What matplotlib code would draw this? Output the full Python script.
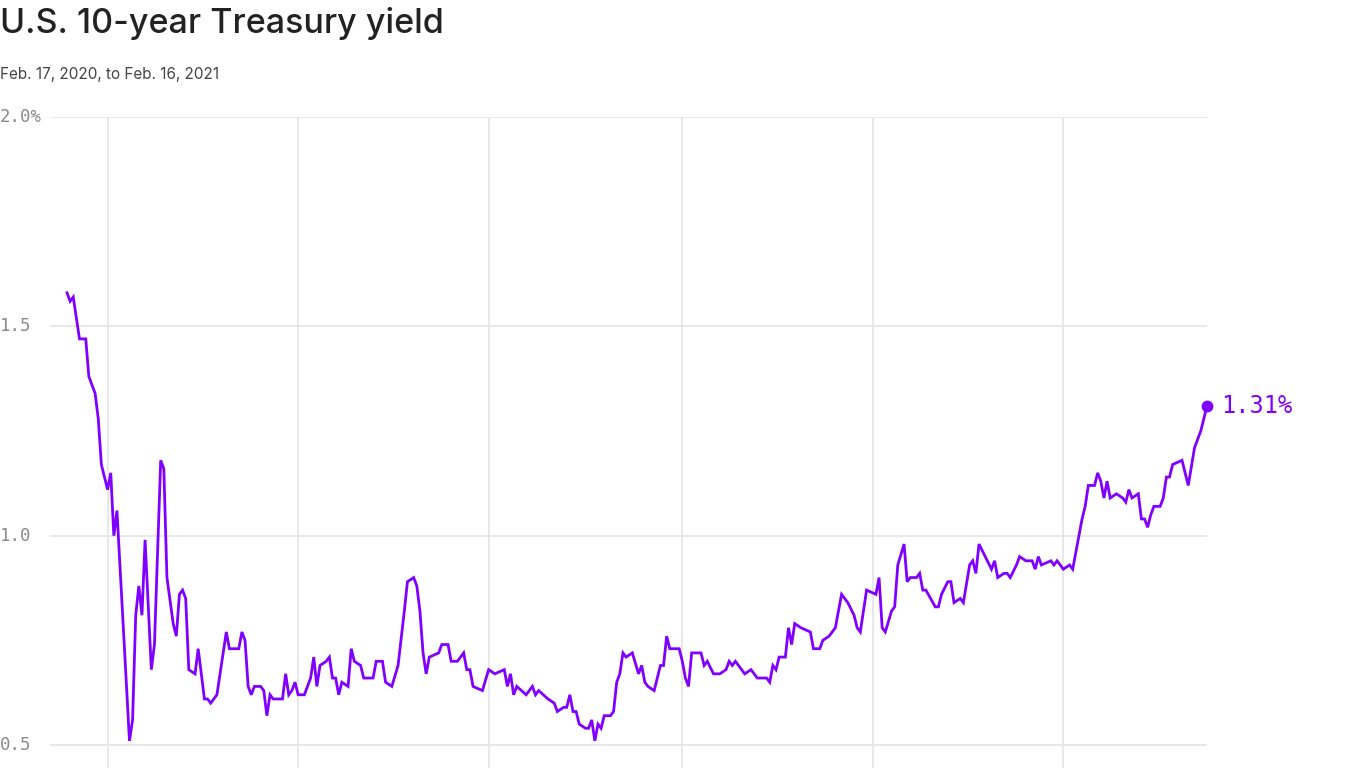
import numpy as np
import pandas as pd
import matplotlib
matplotlib.use("Agg")
import matplotlib.pyplot as plt
import matplotlib.dates as mdates
from matplotlib.transforms import blended_transform_factory

# days since Feb. 17, 2020 and the 10-year yield (%)
days = [0, 1, 2, 4, 6, 7, 9, 10, 11, 13, 14, 15, 16, 20, 21, 22, 23, 24, 25, 27,
        28, 30, 31, 32, 34, 35, 36, 37, 38, 39, 41, 42, 44, 45, 46, 48, 51, 52, 55, 56,
        57, 58, 59, 60, 62, 63, 64, 65, 66, 69, 70, 71, 72, 73, 74, 76, 78, 79, 80, 81,
        83, 84, 85, 86, 87, 88, 90, 91, 92, 94, 95, 98, 99, 101, 102, 104, 106, 108, 109, 111,
        112, 113, 114, 115, 116, 119, 120, 122, 123, 125, 127, 128, 129, 130, 133, 135, 137, 140, 141, 142,
        143, 144, 147, 149, 150, 151, 154, 156, 157, 159, 160, 161, 162, 163, 164, 166, 167, 168, 169, 170,
        171, 172, 174, 175, 176, 177, 178, 179, 181, 183, 184, 185, 186, 188, 189, 190, 191, 192, 193, 196,
        197, 198, 199, 200, 203, 204, 205, 207, 209, 211, 212, 213, 214, 217, 219, 220, 221, 224, 225, 226,
        227, 228, 230, 231, 232, 233, 235, 238, 239, 241, 242, 244, 246, 248, 250, 252, 253, 254, 256, 259,
        260, 261, 262, 264, 265, 266, 268, 269, 270, 272, 273, 274, 275, 278, 279, 280, 282, 283, 284, 286,
        287, 289, 290, 291, 292, 294, 296, 297, 298, 300, 301, 302, 304, 305, 307, 309, 310, 311, 312, 315,
        316, 317, 319, 321, 322, 324, 325, 326, 327, 329, 330, 331, 332, 333, 334, 336, 338, 339, 340, 341,
        343, 344, 345, 346, 347, 348, 350, 351, 352, 353, 354, 357, 359, 361, 363, 365]
yields = [1.58, 1.56, 1.57, 1.47, 1.47, 1.38, 1.34, 1.28, 1.17, 1.11, 1.15, 1.00, 1.06, 0.51, 0.56, 0.81, 0.88, 0.81, 0.99, 0.68,
          0.74, 1.18, 1.16, 0.90, 0.79, 0.76, 0.86, 0.87, 0.85, 0.68, 0.67, 0.73, 0.61, 0.61, 0.60, 0.62, 0.77, 0.73, 0.73, 0.77,
          0.75, 0.64, 0.62, 0.64, 0.64, 0.63, 0.57, 0.62, 0.61, 0.61, 0.67, 0.62, 0.63, 0.65, 0.62, 0.62, 0.66, 0.71, 0.64, 0.69,
          0.70, 0.71, 0.66, 0.66, 0.62, 0.65, 0.64, 0.73, 0.70, 0.69, 0.66, 0.66, 0.70, 0.70, 0.65, 0.64, 0.69, 0.82, 0.89, 0.90,
          0.88, 0.82, 0.72, 0.67, 0.71, 0.72, 0.74, 0.74, 0.70, 0.70, 0.72, 0.68, 0.68, 0.64, 0.63, 0.68, 0.67, 0.68, 0.64, 0.67,
          0.62, 0.64, 0.62, 0.64, 0.62, 0.63, 0.61, 0.60, 0.58, 0.59, 0.59, 0.62, 0.58, 0.58, 0.55, 0.54, 0.54, 0.56, 0.51, 0.55,
          0.54, 0.57, 0.57, 0.58, 0.65, 0.67, 0.72, 0.71, 0.72, 0.67, 0.69, 0.65, 0.64, 0.63, 0.66, 0.69, 0.69, 0.76, 0.73, 0.73,
          0.70, 0.66, 0.64, 0.72, 0.72, 0.69, 0.70, 0.67, 0.67, 0.68, 0.70, 0.69, 0.70, 0.67, 0.68, 0.67, 0.66, 0.66, 0.65, 0.69,
          0.68, 0.71, 0.71, 0.78, 0.74, 0.79, 0.78, 0.77, 0.73, 0.73, 0.75, 0.76, 0.78, 0.86, 0.84, 0.81, 0.78, 0.77, 0.87, 0.86,
          0.90, 0.78, 0.77, 0.82, 0.83, 0.93, 0.98, 0.89, 0.90, 0.90, 0.91, 0.87, 0.87, 0.83, 0.83, 0.86, 0.89, 0.89, 0.84, 0.85,
          0.84, 0.93, 0.94, 0.91, 0.98, 0.95, 0.92, 0.94, 0.90, 0.91, 0.91, 0.90, 0.93, 0.95, 0.94, 0.94, 0.92, 0.95, 0.93, 0.94,
          0.93, 0.94, 0.92, 0.93, 0.92, 1.00, 1.04, 1.07, 1.12, 1.12, 1.15, 1.13, 1.09, 1.13, 1.09, 1.10, 1.09, 1.08, 1.11, 1.09,
          1.10, 1.04, 1.04, 1.02, 1.05, 1.07, 1.07, 1.09, 1.14, 1.14, 1.17, 1.18, 1.12, 1.21, 1.25, 1.31]

start = pd.Timestamp("2020-02-17")
dates = start + pd.to_timedelta(days, unit="D")

purple = "#8000ff"
grid_col = "#e6e6e6"
label_col = "#8a8a8a"

fig = plt.figure(figsize=(13.66, 7.68), dpi=100)
W, H = 1366, 768
# plot area: x 50..1207 px, y 117..768 px
ax = fig.add_axes([50 / W, 0, (1207 - 50) / W, (768 - 117) / H])

ax.plot(dates, yields, color=purple, lw=2.0, solid_joinstyle="miter", clip_on=False, zorder=3)
ax.plot(dates[-1], yields[-1], "o", color=purple, ms=7.5, clip_on=False, zorder=4)
ax.annotate(f"{yields[-1]:.2f}%", (dates[-1], yields[-1]), xytext=(10, 0),
            textcoords="offset points", va="center", ha="left", color=purple,
            fontsize=17, family="DejaVu Sans Mono", annotation_clip=False)

left_day = (50 - 67) / ((1207 - 67) / 365)
ax.set_xlim(start + pd.Timedelta(days=left_day), start + pd.Timedelta(days=365))
ax.set_ylim(0.5 - (768 - 745) / 419, 2.0)

ax.xaxis.set_major_locator(mdates.MonthLocator(bymonth=[1, 3, 5, 7, 9, 11]))
ax.set_yticks([0.5, 1.0, 1.5, 2.0])
ax.grid(True, color=grid_col, lw=1.3)
ax.tick_params(length=0, labelbottom=False, labelleft=False)
for s in ax.spines.values():
    s.set_visible(False)
ax.set_axisbelow(True)

tr = blended_transform_factory(fig.transFigure, ax.transData)
for v, t in zip([2.0, 1.5, 1.0, 0.5], ["2.0%", "1.5", "1.0", "0.5"]):
    ax.text(0.0, v, t, transform=tr, ha="left", va="center", fontsize=12.5,
            family="DejaVu Sans Mono", color=label_col)

fig.text(0.0, 1 - 7 / H, "U.S. 10-year Treasury yield", ha="left", va="top",
         fontsize=24.5, family="Inter", fontweight="medium", color="#222222")
fig.text(0.0, 1 - 67 / H, "Feb. 17, 2020, to Feb. 16, 2021", ha="left", va="top",
         fontsize=11, family="Inter", color="#444444")

fig.savefig("out.png", dpi=100)
